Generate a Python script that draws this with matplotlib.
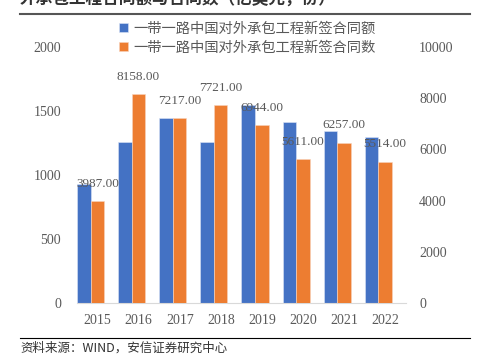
import matplotlib.pyplot as plt
import numpy as np

plt.rcParams['font.family'] = ['Liberation Serif', 'Noto Sans CJK SC', 'DejaVu Sans']

# Daten
years = ['2015', '2016', '2017', '2018', '2019', '2020', '2021', '2022']
amount = [926.4, 1260.3, 1443.2, 1257.8, 1548.9, 1414.6, 1340.4, 1296.2]   # 亿美元
count = [3987, 8158, 7217, 7721, 6944, 5611, 6257, 5514]                   # 份
name_amount = '一带一路中国对外承包工程新签合同额'
name_count = '一带一路中国对外承包工程新签合同数'
title = '外承包工程合同额与合同数（亿美元，份）'
source = '资料来源：WIND，安信证券研究中心'

blue = '#4472C4'
orange = '#ED7D31'
grey = '#595959'

fig = plt.figure(figsize=(4.89, 3.55), dpi=100)
ax = fig.add_axes([0.1575, 0.1465, 0.6725, 0.7211])
ax2 = ax.twinx()

x = np.arange(len(years))
w = 0.33
b1 = ax.bar(x - 0.5 + w / 2, amount, w, color=blue, edgecolor='#dbe4f5', linewidth=0.4, label=name_amount)
b2 = ax2.bar(x - 0.5 + 1.5 * w, count, w, color=orange, edgecolor='#f8d4bd', linewidth=0.4, label=name_count)

# Datenbeschriftung (Anzahl)
for xi, v in zip(x - 0.5 + 1.5 * w, count):
    ax2.annotate(f'{v:.2f}', (xi, v), xytext=(0, 12.5), textcoords='offset points',
                 ha='center', va='center', fontsize=9.5, color=grey)

ax.set_xlim(-0.5, 7.5)
ax.set_ylim(0, 2000)
ax2.set_ylim(0, 10000)
ax.set_yticks([0, 500, 1000, 1500, 2000])
ax2.set_yticks([0, 2000, 4000, 6000, 8000, 10000])
ax.set_xticks(x)
ax.set_xticklabels(years)

for a in (ax, ax2):
    for s in a.spines.values():
        s.set_visible(False)
ax.spines['bottom'].set_visible(True)
ax.spines['bottom'].set_color('#D9D9D9')
ax.tick_params(axis='both', length=0, labelsize=10, labelcolor=grey)
ax.tick_params(axis='y', pad=11.5)
ax.tick_params(axis='x', pad=8)
ax2.tick_params(axis='y', length=0, labelsize=10, labelcolor=grey, pad=9.5)

leg = fig.legend(handles=[b1, b2], loc='upper left', bbox_to_anchor=(0.232, 0.955),
                 frameon=False, handlelength=0.65, handleheight=0.65,
                 handletextpad=0.35, labelspacing=0.35, borderaxespad=0,
                 prop={'family': ['Noto Sans CJK SC'], 'size': 10.3})
for t in leg.get_texts():
    t.set_color(grey)

# Titel, Linien, Quelle
fig.text(0.04, 1.0, title, fontsize=12, fontweight='bold', color='#333333',
         va='center', ha='left', family=['Noto Sans CJK SC'])
fig.add_artist(plt.Line2D([20 / 489, 470 / 489], [1 - 14 / 355] * 2, color='#555555', linewidth=1.5))
fig.add_artist(plt.Line2D([20 / 489, 470 / 489], [1 - 338 / 355] * 2, color='black', linewidth=0.8))
fig.text(20 / 489, 1 - 348 / 355, source, fontsize=9, color='#333333', va='center', ha='left',
         style='italic', family=['Noto Sans CJK SC'])

fig.savefig('out.png', dpi=100)
